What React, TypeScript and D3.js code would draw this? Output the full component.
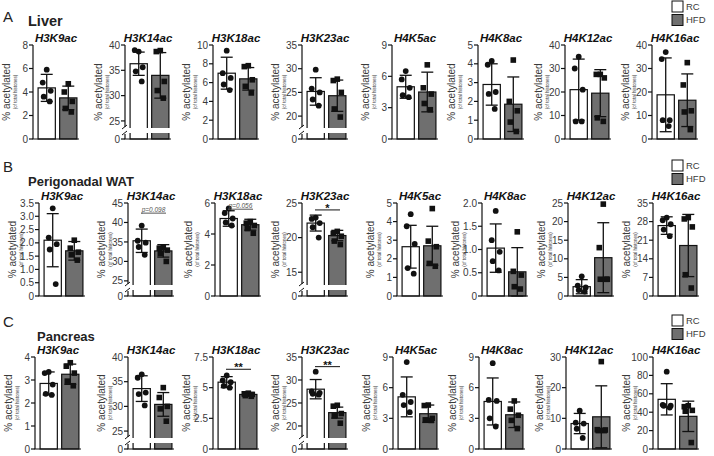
import React from "react";
import * as d3 from "d3";

const tissues = ["Liver", "Perigonadal WAT", "Pancreas"];
const letters = ["A", "B", "C"];
const marks = ["H3K9ac", "H3K14ac", "H3K18ac", "H3K23ac", "H4K5ac", "H4K8ac", "H4K12ac", "H4K16ac"];
const groups = ["RC", "HFD"];

const yMax = [
  [8, 40, 10, 35, 9, 5, 40, 40],
  [3.5, 45, 6, 25, 5, 2, 25, 35],
  [4, 40, 7.5, 35, 9, 9, 30, 100],
];
const breakLo: (number | null)[][] = [
  [null, 23.8, null, 17.7, null, null, null, null],
  [null, 24.2, null, 13.3, null, null, null, null],
  [null, 23.8, null, 17.6, null, null, null, null],
];
const yTicks = [
  [[0, 2, 4, 6, 8], [0, 25, 30, 35, 40], [0, 2, 4, 6, 8, 10], [0, 20, 25, 30, 35], [0, 3, 6, 9], [0, 1, 2, 3, 4, 5], [0, 10, 20, 30, 40], [0, 10, 20, 30, 40]],
  [[0, 0.5, 1, 1.5, 2, 2.5, 3, 3.5], [0, 25, 30, 35, 40, 45], [0, 2, 4, 6], [0, 15, 20, 25], [0, 1, 2, 3, 4, 5], [0, 0.5, 1, 1.5, 2], [0, 5, 10, 15, 20, 25], [0, 7, 14, 21, 28, 35]],
  [[0, 1, 2, 3, 4], [0, 25, 30, 35, 40], [0, 2.5, 5, 7.5], [0, 20, 25, 30, 35], [0, 3, 6, 9], [0, 3, 6, 9], [0, 10, 20, 30], [0, 20, 40, 60, 80, 100]],
];
const tickDecimals = [
  [0, 0, 0, 0, 0, 0, 0, 0],
  [1, 0, 0, 0, 0, 1, 0, 0],
  [0, 0, -1, 0, 0, 0, 0, 0],
];

const rcMean = [
  [4.35, 36.3, 7.0, 25.2, 5.0, 2.9, 21.0, 18.8],
  [2.1, 35.3, 5.0, 22.1, 2.65, 1.03, 2.5, 26.5],
  [2.85, 33.6, 5.45, 28.0, 5.1, 4.65, 8.3, 54],
];
const rcSd = [
  [1.15, 2.3, 1.7, 2.9, 1.1, 1.1, 13, 15.7],
  [1.0, 3.0, 0.5, 1.15, 1.15, 0.52, 1.9, 3.3],
  [0.5, 2.6, 0.45, 2.1, 1.95, 2.3, 3.3, 17],
];
const hfdMean = [
  [3.5, 34.0, 6.4, 24.3, 4.5, 1.85, 19.5, 16.5],
  [1.7, 32.7, 4.6, 20.3, 2.7, 0.52, 10.3, 19.0],
  [3.25, 30.4, 4.45, 22.9, 3.45, 3.35, 10.5, 35.5],
];
const hfdSd = [
  [1.0, 4.5, 1.2, 3.3, 1.9, 1.45, 10, 11.2],
  [0.35, 1.6, 0.35, 0.75, 1.05, 0.52, 9.4, 11.7],
  [0.44, 2.4, 0.15, 1.2, 0.85, 1.25, 10.1, 16.5],
];

const rcPoints = [
  [[5.9, 4.8, 4.1, 3.6, 3.2], [38.7, 39.0, 35.6, 34.8, 32.8], [9.4, 7.0, 6.5, 5.8, 5.2], [29.8, 25.8, 25.0, 23.5, 22.2], [6.5, 5.7, 4.9, 4.2, 4.0], [4.15, 3.95, 2.5, 2.4, 1.6], [35, 30, 21, 7.5, 7.5], [37, 34, 8, 8, 5.5]],
  [[3.3, 2.2, 1.95, 1.75, 0.45], [39.2, 35.3, 34.8, 33.7, 31.7], [5.65, 5.35, 5.0, 4.75, 4.55], [22.9, 22.7, 22.1, 21.5, 20.0], [4.4, 3.75, 2.8, 1.5, 1.2], [1.83, 1.2, 0.95, 0.75, 0.55], [5.3, 2.8, 2.3, 1.6, 1.2], [29.5, 28.5, 27, 25, 22.5]],
  [[3.35, 3.3, 2.8, 2.4, 2.35], [36.5, 35.8, 32.8, 32.5, 30.2], [6.0, 5.6, 5.45, 5.15, 5.0], [31.8, 27.5, 27.2, 27.0, 26.8], [8.5, 5.3, 4.6, 4.3, 3.6], [8.4, 4.8, 4.7, 3.0, 2.2], [12.5, 8.6, 8.3, 6.6, 3.6], [84, 48, 47, 47, 45]],
];
const hfdPoints = [
  [[4.7, 4.0, 3.2, 2.6, 2.3], [38.9, 38.7, 32.8, 31.0, 29.5], [7.8, 7.7, 6.3, 5.6, 4.9], [27.8, 27.5, 25.0, 21.5, 19.8], [7.1, 4.9, 4.3, 3.4, 2.8], [4.2, 2.0, 1.5, 0.9, 0.4], [27.5, 27.5, 26, 9, 7.5], [32.5, 23, 12, 11.5, 4]],
  [[2.1, 1.8, 1.65, 1.55, 1.35], [33.6, 33.4, 32.9, 32.0, 30.0], [4.8, 4.7, 4.55, 4.35, 4.05], [20.9, 20.6, 20.2, 19.5, 19.0], [4.7, 2.95, 2.65, 1.75, 1.6], [1.38, 0.53, 0.45, 0.2, 0.15], [24.7, 13, 4.5, 4.5, 4.5], [29.5, 29, 26, 8, 3]],
  [[3.75, 3.6, 3.3, 2.95, 2.75], [33.8, 31.8, 30.0, 29.5, 27.0], [4.55, 4.5, 4.45, 4.35, 4.3], [24.5, 24.3, 22.7, 22.2, 20.6], [4.3, 4.25, 3.0, 2.85, 2.8], [4.7, 3.9, 3.3, 2.8, 2.0], [28.5, 6.3, 6.2, 6.0, 6.0], [47, 46, 42, 41, 7]],
];

const sigRow = [1, 1, 1, 2, 2];
const sigPanel = [1, 2, 3, 2, 3];
const sigLevel = [42.4, 5.6, 24.0, 6.5, 32.9];
const sigText = ["p=0.098", "p=0.056", "*", "**", "**"];

// layout
const W = 714, H = 456;
const axisX = [
  [33, 125, 213, 302, 392, 478, 565, 652],
  [39, 128, 215, 302, 397, 482, 568, 653],
  [35, 128, 213, 302, 393, 479, 566, 653],
];
const rowTop = [45, 203, 357];
const rowBottom = [139, 296, 449];
const legendTop = [1, 160, 315];
const headX = [28, 28, 37];
const headY = [26, 186, 341];
const headSize = [14.5, 13, 13];
const letterY = [22, 172, 327];
const FONT = "'Liberation Sans', Arial, Helvetica, sans-serif";
const GRAY = "#6f6f6f";
const TXT = "#3a3a3a";
const jitter = [0, -4, 4, -3, 3];

function fmtTick(v: number, dec: number) {
  if (v === 0) return "0";
  if (dec === 1) return d3.format(".1f")(v);
  return d3.format("~g")(v);
}

function Panel({ r, p }: { r: number; p: number }) {
  const ax = axisX[r][p];
  const top = rowTop[r];
  const bottom = rowBottom[r];
  const lo = breakLo[r][p];
  const max = yMax[r][p];
  const upper = d3
    .scaleLinear()
    .domain([lo ?? 0, max])
    .range([lo == null ? bottom : bottom - 12, top]);
  const y = (v: number) => (lo != null && v < lo ? bottom : upper(v));
  const band = d3.scaleBand<string>().domain(groups).range([ax + 4, ax + 45]).paddingInner(0.2).paddingOuter(0.05);
  const bw = band.bandwidth();
  const means = [rcMean[r][p], hfdMean[r][p]];
  const sds = [rcSd[r][p], hfdSd[r][p]];
  const pts = [rcPoints[r][p], hfdPoints[r][p]];
  const cy = (top + bottom) / 2;
  const sigIdx = sigRow.findIndex((rr, i) => rr === r && sigPanel[i] === p);
  const isP = sigIdx >= 0 && sigText[sigIdx].startsWith("p");
  return (
    <g>
      <text x={ax + 23} y={top - 3} textAnchor="middle" fontFamily={FONT} fontSize={11.5} fontWeight="bold" fontStyle="italic" fill="#111">
        {marks[p]}
      </text>
      {groups.map((g, i) => (
        <rect key={g} x={band(g)} y={y(means[i])} width={bw} height={bottom - y(means[i])} fill={i === 0 ? "#fff" : GRAY} stroke="#111" strokeWidth={1.2} />
      ))}
      {lo != null && <rect x={ax + 1.5} y={bottom - 11} width={45} height={5} fill="#fff" />}
      {groups.map((g, i) => {
        const cx = (band(g) as number) + bw / 2;
        const y1 = y(means[i] + sds[i]);
        const y0 = Math.min(bottom, y(Math.max(0, means[i] - sds[i])));
        return (
          <g key={g} stroke="#111" strokeWidth={1.3}>
            <line x1={cx} x2={cx} y1={y1} y2={y0} />
            <line x1={cx - 6} x2={cx + 6} y1={y1} y2={y1} />
            <line x1={cx - 6} x2={cx + 6} y1={y0} y2={y0} />
          </g>
        );
      })}
      {groups.map((g, i) => {
        const cx = (band(g) as number) + bw / 2;
        return pts[i].map((v, k) =>
          i === 0 ? (
            <circle key={g + k} cx={cx + jitter[k]} cy={y(v)} r={2.9} fill="#111" />
          ) : (
            <rect key={g + k} x={cx + jitter[k] - 2.8} y={y(v) - 2.8} width={5.6} height={5.6} fill="#111" />
          )
        );
      })}
      <g stroke="#111" strokeWidth={1.2}>
        {lo == null ? (
          <line x1={ax} x2={ax} y1={top} y2={bottom} />
        ) : (
          <>
            <line x1={ax} x2={ax} y1={top} y2={bottom - 12} />
            <line x1={ax} x2={ax} y1={bottom - 5} y2={bottom} />
            <line x1={ax - 3} x2={ax + 2} y1={bottom - 10} y2={bottom - 14} strokeWidth={1} />
            <line x1={ax - 3} x2={ax + 2} y1={bottom - 4} y2={bottom - 8} strokeWidth={1} />
          </>
        )}
        <line x1={ax - 0.6} x2={ax + 46} y1={bottom} y2={bottom} />
        {yTicks[r][p].map((t) => (
          <line key={t} x1={ax - 4} x2={ax} y1={y(t)} y2={y(t)} />
        ))}
      </g>
      {yTicks[r][p].map((t) => (
        <text key={t} x={ax - 5} y={y(t)} dy="0.36em" textAnchor="end" fontFamily={FONT} fontSize={10} fill={TXT}>
          {fmtTick(t, tickDecimals[r][p])}
        </text>
      ))}
      <text transform={`translate(${ax - 27},${cy}) rotate(-90)`} textAnchor="middle" dy="0.35em" fontFamily={FONT} fontSize={10} fill={TXT}>
        % acetylated
      </text>
      <text transform={`translate(${ax - 18},${cy}) rotate(-90)`} textAnchor="middle" dy="0.35em" fontFamily={FONT} fontSize={4.5} fill={TXT}>
        (of total histones)
      </text>
      {sigIdx >= 0 && (
        <g>
          <line x1={ax + 13} x2={ax + 38} y1={upper(sigLevel[sigIdx])} y2={upper(sigLevel[sigIdx])} stroke={isP ? "#555" : "#111"} strokeWidth={1} />
          {isP ? (
            <text x={ax + 25.5} y={upper(sigLevel[sigIdx]) - 1.5} textAnchor="middle" fontFamily={FONT} fontSize={6.5} fontStyle="italic" fill="#555">
              {sigText[sigIdx]}
            </text>
          ) : (
            <text x={ax + 25.5} y={upper(sigLevel[sigIdx]) + 2} textAnchor="middle" fontFamily={FONT} fontSize={11} fontWeight="bold" fill="#111">
              {sigText[sigIdx]}
            </text>
          )}
        </g>
      )}
    </g>
  );
}

export default function App() {
  return (
    <svg width={W} height={H} style={{ position: "absolute", left: 0, top: 0, background: "#fff" }}>
      <rect width={W} height={H} fill="#fff" />
      {tissues.map((t, r) => (
        <g key={t}>
          <text x={3} y={letterY[r]} fontFamily={FONT} fontSize={15} fill="#222">
            {letters[r]}
          </text>
          <text x={headX[r]} y={headY[r]} fontFamily={FONT} fontSize={headSize[r]} fontWeight="bold" fill="#222">
            {t}
          </text>
          {groups.map((g, i) => (
            <g key={g}>
              <rect x={672} y={legendTop[r] + i * 13.5} width={11} height={11} fill={i === 0 ? "#fff" : GRAY} stroke="#111" strokeWidth={1} />
              <text x={686} y={legendTop[r] + i * 13.5 + 5.5} dy="0.36em" fontFamily={FONT} fontSize={9.5} fill={TXT}>
                {g}
              </text>
            </g>
          ))}
          {marks.map((m, p) => (
            <Panel key={m} r={r} p={p} />
          ))}
        </g>
      ))}
    </svg>
  );
}
